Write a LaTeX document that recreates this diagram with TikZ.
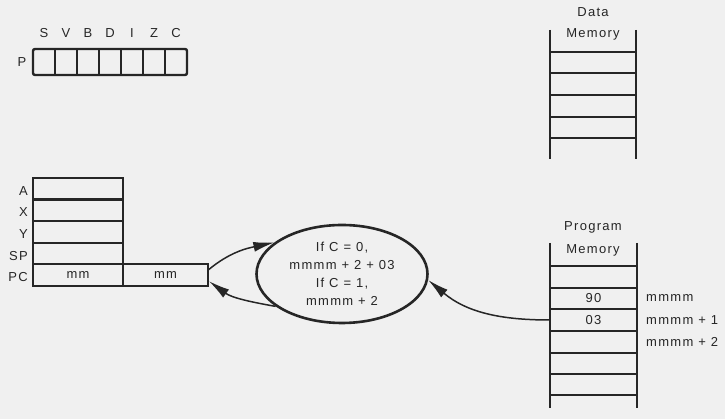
\documentclass[tikz,border=0pt]{standalone}
\usepackage{fontspec}
\setmainfont{Liberation Sans}[LetterSpace=10]
\usetikzlibrary{shapes, arrows.meta, positioning, calc}

\tikzset{
  reg/.style={draw, line width=2.2pt, minimum width=90pt, minimum height=21.6pt, inner sep=0pt, outer sep=0pt},
  memcell/.style={minimum width=87pt, minimum height=21.5pt, inner sep=0pt, outer sep=0pt},
  lbl/.style={inner sep=1pt},
  rail/.style={line width=2.6pt},
  rung/.style={line width=1.8pt},
  flow/.style={line width=1.5pt, -{Latex[length=21pt, width=10pt]}},
}

\begin{document}
\begin{tikzpicture}[x=1pt, y=1pt, font=\fontsize{13}{16}\selectfont, color=black!85]
  \fill[black!6] (0,0) rectangle (725,419);
  \useasboundingbox (0,0) rectangle (725,419);
  % Status register
  \node[lbl] (plbl) at (22,357) {P};
  \draw[line width=2.4pt, rounded corners=2pt] (33,344) rectangle (187,370);
  \foreach \flag [count=\i] in {S,V,B,D,I,Z,C}{
    \node[lbl] (flag\i) at ({22+22*\i},386) {\flag};
  }
  \foreach \i in {1,...,6} \draw[line width=1.8pt] ({33+22*\i},344) -- ({33+22*\i},370);
  % Registers
  \foreach \rname/\yy in {A/230.2, X/208.6, Y/187, SP/165.4}{
    \node[reg] (\rname) at (78,\yy) {};
    \node[lbl, left=4pt of \rname, yshift=-2pt] (lbl\rname) {\rname};
  }
  \node[reg] (pcl) at (78,143.8) {mm};
  \node[reg, minimum width=85pt, right=0pt of pcl] (pch) {mm};
  \node[lbl, left=4pt of pcl, yshift=-2pt] (lblPC) {PC};
  % Branch condition
  \node[draw, ellipse, line width=2.6pt, minimum width=171pt, minimum height=98pt, inner sep=0pt,
        align=center, font=\fontsize{13}{18}\selectfont] (cond) at (342,145)
        {If C = 0,\\mmmm + 2 + 03\\If C = 1,\\mmmm + 2};
  % Data memory
  \draw[rail] (550,389) -- (550,260);
  \draw[rail] (636,389) -- (636,260);
  \foreach \yy in {367,346,324,302,281} \draw[rung] (550,\yy) -- (636,\yy);
  \node[lbl, align=center, font=\fontsize{13}{21}\selectfont] (dmem) at (593,395) {Data\\Memory};
  % Program memory
  \draw[rail] (550,176) -- (550,11);
  \draw[rail] (637,176) -- (637,11);
  \foreach \yy in {153,131,110,88,66,45,24} \draw[rung] (550,\yy) -- (637,\yy);
  \node[lbl, align=center, font=\fontsize{13}{23}\selectfont] (pmem) at (593,180) {Program\\Memory};
  \node[memcell] (m90) at (593.5,120.5) {90};
  \node[memcell] (m03) at (593.5,99) {03};
  \node[memcell] (m02) at (593.5,77) {};
  \node[lbl, right=8pt of m90] (adr0) {mmmm};
  \node[lbl, right=8pt of m03] (adr1) {mmmm + 1};
  \node[lbl, right=8pt of m02] (adr2) {mmmm + 2};
  % Arrows
  \draw[flow] ($(pch.east)+(0,5)$) to[out=40, in=192] (cond.155);
  \draw[flow] (cond.206) to[out=170, in=-36] ($(pch.east)+(1,-6)$);
  \draw[flow] (m03.west) to[out=180, in=-40] (cond.356);
\end{tikzpicture}
\end{document}
